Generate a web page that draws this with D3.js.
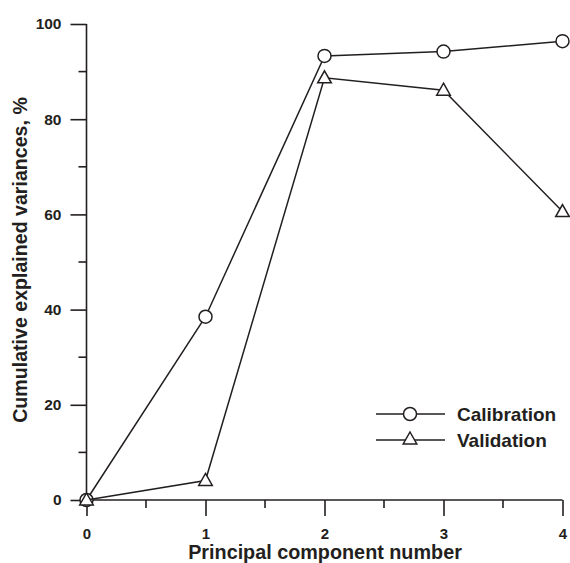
<!DOCTYPE html>
<html>
<head>
<meta charset="utf-8">
<script src="https://cdn.jsdelivr.net/npm/d3@7"></script>
<style>
  html, body { margin: 0; padding: 0; background: #fff; }
  svg { display: block; }
  text { font-family: "Liberation Sans", Arial, sans-serif; font-weight: bold; fill: #231f20; }
</style>
</head>
<body>
<svg id="chart" width="570" height="563"></svg>
<script>
// ---- data ----
const components = [0, 1, 2, 3, 4];
const calibration = [0, 38.5, 93.3, 94.2, 96.4];
const validation = [0, 4.1, 88.7, 86.1, 60.6];
const seriesNames = ["Calibration", "Validation"];
const xTickValues = [0, 1, 2, 3, 4];
const xMinorTicks = [0.5, 1.5, 2.5, 3.5];
const yTickValues = [0, 20, 40, 60, 80, 100];
const yMinorTicks = [10, 30, 50, 70, 90];
const xTitle = "Principal component number";
const yTitle = "Cumulative explained variances, %";

const ink = "#231f20";
const svg = d3.select("#chart");

const x = d3.scaleLinear().domain([0, 4]).range([86.5, 562.5]);
const y = d3.scaleLinear().domain([0, 100]).range([500, 24]);

// axes
const xAxis = d3.axisBottom(x).tickValues(xTickValues).tickSize(16).tickPadding(12).tickFormat(d3.format("d"));
const gx = svg.append("g").attr("transform", `translate(0,${y(0)})`).call(xAxis);
gx.select(".domain").remove();
gx.append("line").attr("x1", x(0)).attr("x2", x(4)).attr("stroke", ink).attr("stroke-width", 1.6);
gx.selectAll(".tick line").attr("stroke", ink).attr("stroke-width", 1.6);
gx.selectAll(".tick text").attr("fill", ink).style("font-size", "15px").attr("font-family", null);
gx.selectAll(".minor").data(xMinorTicks).join("line")
  .attr("x1", d => x(d)).attr("x2", d => x(d)).attr("y1", 0).attr("y2", 8)
  .attr("stroke", ink).attr("stroke-width", 1.6);

const yAxis = d3.axisLeft(y).tickValues(yTickValues).tickSize(16).tickPadding(9).tickFormat(d3.format("d"));
const gy = svg.append("g").attr("transform", `translate(${x(0)},0)`).call(yAxis);
gy.select(".domain").remove();
gy.append("line").attr("y1", y(0)).attr("y2", y(100)).attr("stroke", ink).attr("stroke-width", 1.6);
gy.selectAll(".tick line").attr("stroke", ink).attr("stroke-width", 1.6);
gy.selectAll(".tick text").attr("fill", ink).style("font-size", "15.5px").attr("font-family", null);
gy.selectAll(".minor").data(yMinorTicks).join("line")
  .attr("y1", d => y(d)).attr("y2", d => y(d)).attr("x1", 0).attr("x2", -8)
  .attr("stroke", ink).attr("stroke-width", 1.6);

// titles
svg.append("text").attr("x", 325).attr("y", 559).attr("text-anchor", "middle")
  .style("font-size", "19.8px").text(xTitle);
svg.append("text").attr("transform", "translate(27,260) rotate(-90)").attr("text-anchor", "middle")
  .style("font-size", "19.6px").text(yTitle);

// series
const line = d3.line().x((d, i) => x(components[i])).y(d => y(d));
const triPath = "M0,-7L6.8,5L-6.8,5Z";

function drawSeries(vals, marker) {
  svg.append("path").datum(vals).attr("d", line)
    .attr("fill", "none").attr("stroke", ink).attr("stroke-width", 1.5);
  const g = svg.append("g");
  vals.forEach((v, i) => {
    if (marker === "circle") {
      g.append("circle").attr("cx", x(components[i])).attr("cy", y(v)).attr("r", 6.5)
        .attr("fill", "#fff").attr("stroke", ink).attr("stroke-width", 1.5);
    } else {
      g.append("path").attr("d", triPath)
        .attr("transform", `translate(${x(components[i])},${y(v)})`)
        .attr("fill", "#fff").attr("stroke", ink).attr("stroke-width", 1.5);
    }
  });
}
drawSeries(calibration, "circle");
drawSeries(validation, "triangle");

// legend
const legend = svg.append("g");
const legendRows = [{ name: seriesNames[0], m: "circle", yy: 414 }, { name: seriesNames[1], m: "triangle", yy: 440 }];
legendRows.forEach(r => {
  legend.append("line").attr("x1", 376).attr("x2", 445).attr("y1", r.yy).attr("y2", r.yy)
    .attr("stroke", ink).attr("stroke-width", 1.5);
  if (r.m === "circle") {
    legend.append("circle").attr("cx", 410).attr("cy", r.yy).attr("r", 6.5)
      .attr("fill", "#fff").attr("stroke", ink).attr("stroke-width", 1.5);
  } else {
    legend.append("path").attr("d", triPath).attr("transform", `translate(410,${r.yy - 1})`)
      .attr("fill", "#fff").attr("stroke", ink).attr("stroke-width", 1.5);
  }
  legend.append("text").attr("x", 457).attr("y", r.yy + 6.5).style("font-size", "19px").text(r.name);
});
</script>
</body>
</html>
